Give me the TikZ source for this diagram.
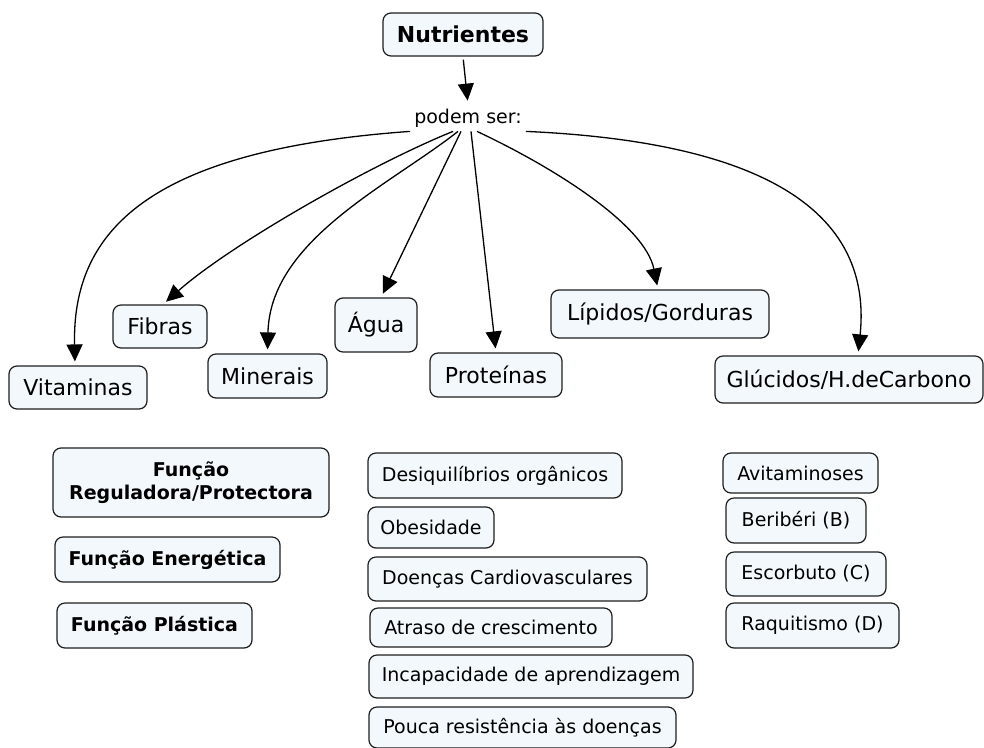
\documentclass[tikz,border=0pt]{standalone}
\usepackage{fontspec}
\setmainfont{DejaVu Sans}
\usetikzlibrary{arrows.meta}
\definecolor{boxfill}{RGB}{242,248,251}
\definecolor{boxline}{RGB}{30,30,30}
\begin{document}
\begin{tikzpicture}[x=1pt,y=-1pt,
  concept/.style={draw=boxline, line width=1.2pt, fill=boxfill, rounded corners=8pt,
    inner sep=0pt, align=center, text=black},
  boxbig/.style={concept, font=\fontsize{22}{26}\selectfont},
  boxsmall/.style={concept, font=\fontsize{19}{23}\selectfont},
  boxbold/.style={concept, font=\fontsize{19}{23}\selectfont\bfseries},
  link/.style={line width=1.3pt, -{Triangle[length=17pt,width=16pt]}, shorten >=4pt},
]
\useasboundingbox (0,0) rectangle (984,747);

% root and linking phrase
\node[concept, font=\fontsize{22}{26}\selectfont\bfseries, minimum width=160pt, minimum height=43pt] (nut) at (463,34.5) {Nutrientes};
\node[inner sep=4pt, font=\fontsize{19}{23}\selectfont] (ps) at (468,118) {podem ser:};

% nutrient groups
\node[boxbig, minimum width=138pt, minimum height=43pt] (vit) at (78,387.5) {Vitaminas};
\node[boxbig, minimum width=94pt, minimum height=43pt] (fib) at (160,326.5) {Fibras};
\node[boxbig, minimum width=119pt, minimum height=44pt] (min) at (267.5,376) {Minerais};
\node[boxbig, minimum width=82pt, minimum height=54pt] (agu) at (376,325) {Água};
\node[boxbig, minimum width=132pt, minimum height=44pt] (pro) at (496,375) {Proteínas};
\node[boxbig, minimum width=218pt, minimum height=48pt] (lip) at (660,314) {Lípidos/Gorduras};
\node[boxbig, minimum width=268pt, minimum height=47pt] (glu) at (849,379.5) {Glúcidos/H.deCarbono};

% functions
\node[boxbold, minimum width=276pt, minimum height=69pt] (freg) at (191,482.5) {Função\\Reguladora/Protectora};
\node[boxbold, minimum width=225pt, minimum height=45pt] (fene) at (167.5,559.5) {Função Energética};
\node[boxbold, minimum width=195pt, minimum height=45pt] (fpla) at (154.5,625.5) {Função Plástica};

% disorders
\node[boxsmall, minimum width=254pt, minimum height=45pt] (d1) at (495,475.5) {Desiquilíbrios orgânicos};
\node[boxsmall, minimum width=126pt, minimum height=41pt] (d2) at (431,527.5) {Obesidade};
\node[boxsmall, minimum width=279pt, minimum height=44pt] (d3) at (507.5,579) {Doenças Cardiovasculares};
\node[boxsmall, minimum width=242pt, minimum height=39pt] (d4) at (491,627.5) {Atraso de crescimento};
\node[boxsmall, minimum width=324pt, minimum height=43pt] (d5) at (531,676.5) {Incapacidade de aprendizagem};
\node[boxsmall, minimum width=307pt, minimum height=41pt] (d6) at (522.5,727.5) {Pouca resistência às doenças};

% vitamin deficiencies
\node[boxsmall, minimum width=155pt, minimum height=40pt] (a1) at (800.5,473) {Avitaminoses};
\node[boxsmall, minimum width=140pt, minimum height=45pt] (a2) at (796,520.5) {Beribéri (B)};
\node[boxsmall, minimum width=160pt, minimum height=44pt] (a3) at (806,574) {Escorbuto (C)};
\node[boxsmall, minimum width=173pt, minimum height=45pt] (a4) at (812.5,625.5) {Raquitismo (D)};

% connectors
\draw[link, shorten <=3pt] (nut.south) -- (ps.north);
\draw[link] (ps.south west) .. controls (150,150) and (72,230) .. ([xshift=-3pt]vit.north);
\draw[link] ([xshift=-15pt]ps.south) .. controls (370,165) and (230,245) .. ([xshift=3pt]fib.north);
\draw[link] ([xshift=-10pt]ps.south) .. controls (390,185) and (270,240) .. (min.north);
\draw[link] ([xshift=-7pt]ps.south) -- ([xshift=5pt]agu.north);
\draw[link] ([xshift=3pt]ps.south) -- (pro.north);
\draw[link] ([xshift=9pt]ps.south) .. controls (555,168) and (645,225) .. ([xshift=-2pt]lip.north);
\draw[link] (ps.south east) .. controls (720,140) and (875,190) .. ([xshift=9pt]glu.north);
\end{tikzpicture}
\end{document}
